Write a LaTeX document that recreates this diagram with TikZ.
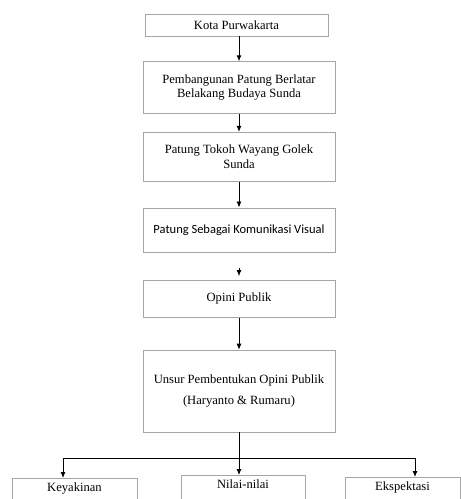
\documentclass[tikz,border=0pt]{standalone}
\usepackage{fontspec}
\setmainfont{Liberation Serif}
\newfontfamily\calibrilike{Carlito}
\usepackage{tikz}
\usetikzlibrary{positioning,arrows.meta,calc}

\begin{document}
\begin{tikzpicture}[
      x=1pt, y=1pt,
      font=\fontsize{12.6}{14.5}\selectfont,
      box/.style={draw=gray!70, line width=0.6pt, fill=white, minimum width=192pt, align=center, inner sep=3pt},
      leaf/.style={draw=gray!70, line width=0.6pt, anchor=north, align=center, inner xsep=3pt, inner ysep=4pt, text height=9pt, text depth=30pt},
      arrow/.style={-{Latex[length=6pt,width=5pt]}, line width=0.9pt},
    ]
      \useasboundingbox (0,0) rectangle (461,-499);
      % main chain
      \node[box, minimum width=183pt, minimum height=22pt] (kota) at (236.5,-25) {Kota Purwakarta};
      \node[box, minimum height=52pt, below=25pt of kota, xshift=2.5pt] (bangun) {Pembangunan Patung Berlatar\\Belakang Budaya Sunda};
      \node[box, minimum height=49pt, below=18pt of bangun] (tokoh) {Patung Tokoh Wayang Golek\\Sunda};
      \node[box, minimum height=44pt, below=26pt of tokoh, font=\calibrilike\fontsize{12.5}{14}\selectfont] (visual) {Patung Sebagai Komunikasi Visual};
      \node[box, minimum height=37pt, below=28pt of visual] (opini) {Opini Publik};
      \node[box, minimum height=82pt, below=32pt of opini] (unsur) {Unsur Pembentukan Opini Publik\\[7pt](Haryanto \& Rumaru)};
      % three elements
      \node[leaf, minimum width=125pt] (yakin) at (74.5,-478) {Keyakinan};
      \node[leaf, minimum width=124pt] (nilai) at (243,-475) {Nilai-nilai};
      \node[leaf, minimum width=115pt] (harap) at (402.5,-477) {Ekspektasi};

      \draw[arrow] (kota.south -| bangun) -- (bangun);
      \draw[arrow] (bangun) -- (tokoh);
      \draw[arrow] (tokoh) -- (visual);
      \coordinate (stub) at ([yshift=-16pt]visual.south);
      \draw[arrow, shorten >=4pt] (stub) -- (opini);
      \draw[arrow] (opini) -- (unsur);
      \draw[arrow] (unsur.south) -- (unsur.south |- nilai.north);
      \coordinate (split) at ([yshift=-26pt]unsur.south);
      \draw[arrow] (split) -| ([xshift=-11.5pt]yakin.north);
      \draw[arrow] (split) -| ([xshift=12.5pt]harap.north);
    \end{tikzpicture}
\end{document}
